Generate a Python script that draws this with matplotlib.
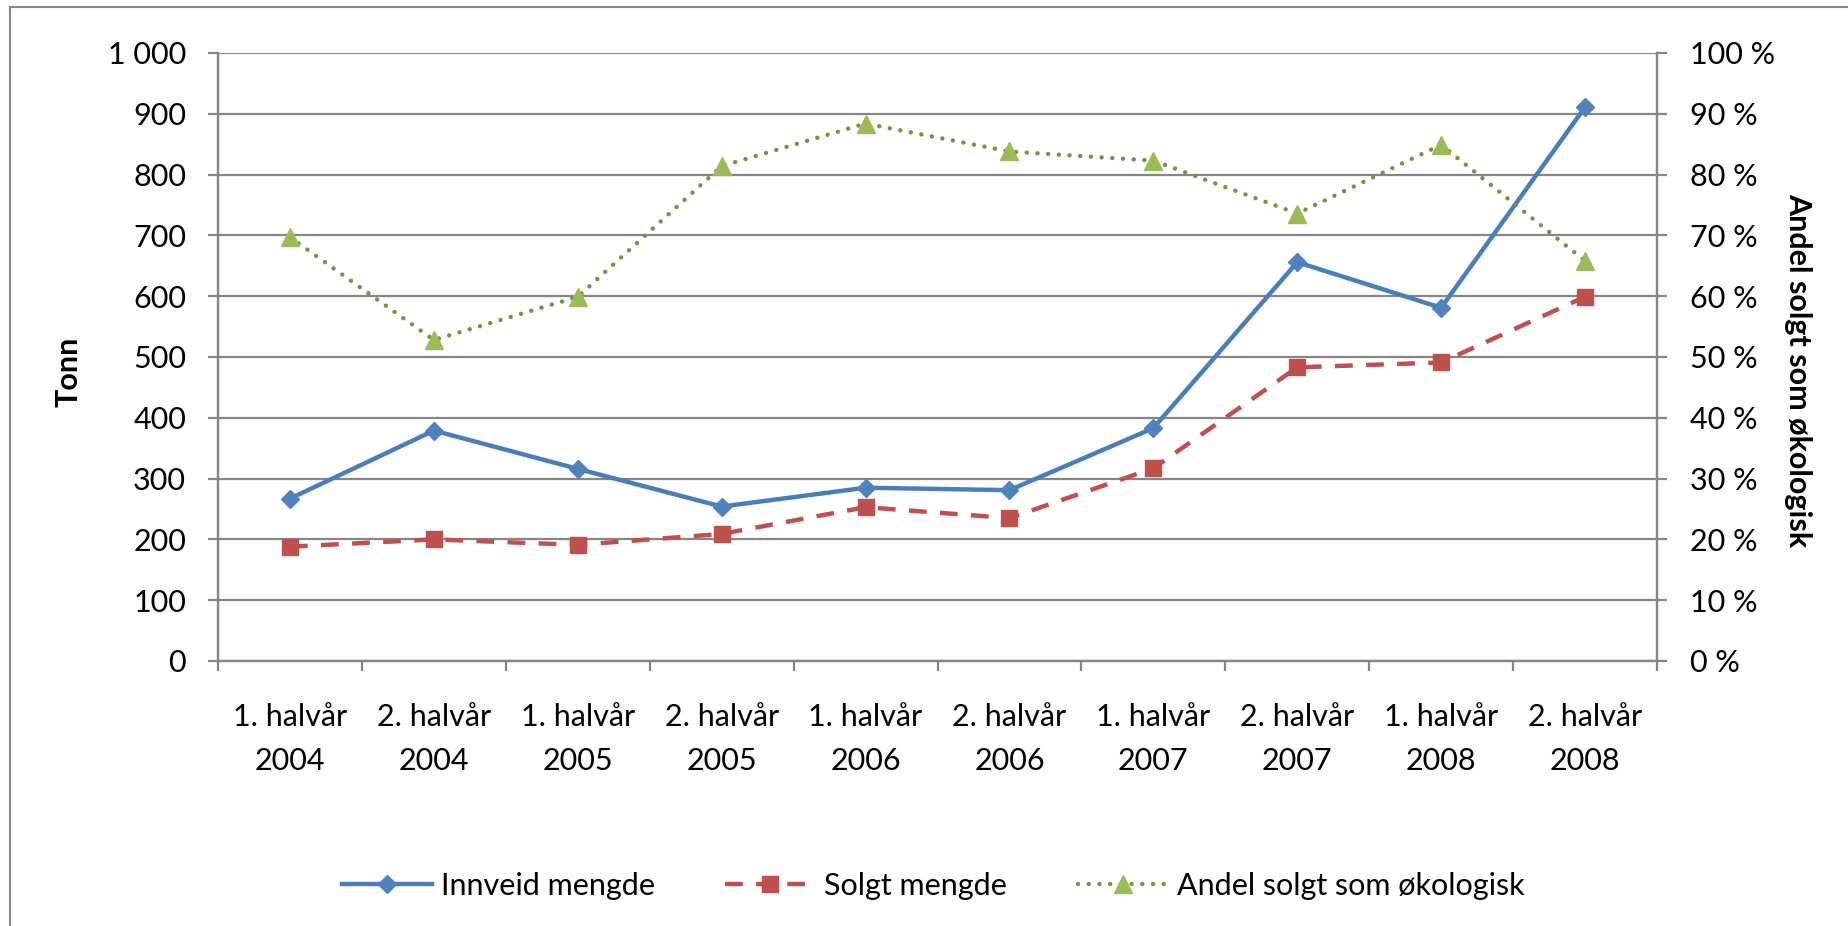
import numpy as np
import matplotlib
matplotlib.use("Agg")
import matplotlib.pyplot as plt
from matplotlib.patches import Rectangle
from matplotlib.ticker import FuncFormatter

plt.rcParams['font.family'] = ['Lato', 'DejaVu Sans']

categories = ["1. halvår\n2004", "2. halvår\n2004", "1. halvår\n2005", "2. halvår\n2005",
              "1. halvår\n2006", "2. halvår\n2006", "1. halvår\n2007", "2. halvår\n2007",
              "1. halvår\n2008", "2. halvår\n2008"]
innveid = [267, 379, 316, 254, 285, 281, 383, 656, 581, 911]
solgt = [188, 200, 191, 209, 253, 235, 317, 483, 491, 599]
andel = [69.7, 52.8, 59.9, 81.4, 88.4, 83.8, 82.3, 73.6, 84.9, 65.8]

grey = "#868686"
fs = 22

fig = plt.figure(figsize=(18.49, 9.26), dpi=100)
ax = fig.add_axes([218 / 1849, 1 - 661 / 926, (1657 - 218) / 1849, (661 - 53) / 926])
ax2 = ax.twinx()

# outer chart border
fig.patches.append(Rectangle((10 / 1849, -0.5), 2, 1 - 7 / 926 + 0.5, transform=fig.transFigure,
                             fill=False, edgecolor=grey, linewidth=1.5, zorder=0))

x = np.arange(len(categories))

l1, = ax.plot(x, innveid, color="#4A7EBB", lw=3.2, marker="D", markersize=9.5,
              markerfacecolor="#4F81BD", markeredgecolor="#4F81BD", label="Innveid mengde", zorder=4)
l2, = ax.plot(x, solgt, color="#C0504D", lw=3.2, linestyle=(0, (4, 3)), dash_capstyle="butt",
              marker="s", markersize=11, markerfacecolor="#C0504D", markeredgecolor="#C0504D",
              label="Solgt mengde", zorder=3)
l3, = ax2.plot(x, andel, color="#77933C", lw=3.2, linestyle=(0, (0.01, 2.4)), dash_capstyle="round",
               marker="^", markersize=13, markerfacecolor="#9BBB59", markeredgecolor="#9BBB59",
               label="Andel solgt som økologisk", zorder=3)

ax.set_xlim(-0.5, len(categories) - 0.5)
ax.set_ylim(0, 1000)
ax2.set_ylim(0, 100)

ax.set_yticks(np.arange(0, 1001, 100))
ax2.set_yticks(np.arange(0, 101, 10))
ax.yaxis.set_major_formatter(FuncFormatter(lambda v, p: f"{int(v):,}".replace(",", " ")))
ax2.yaxis.set_major_formatter(FuncFormatter(lambda v, p: f"{int(v)} %"))

ax.set_xticks(np.arange(-0.5, len(categories), 1))
ax.set_xticklabels([])
ax.set_xticks(x, minor=True)
ax.set_xticklabels(categories, minor=True, fontsize=fs, linespacing=1.7)
ax.tick_params(axis="x", which="major", length=7, width=1.6, color=grey, direction="out")
ax.tick_params(axis="x", which="minor", length=0, pad=30)
ax.tick_params(axis="y", length=7, width=1.6, color=grey, labelsize=fs, pad=16)
ax2.tick_params(axis="y", length=7, width=1.6, color=grey, labelsize=fs, pad=17)

ax.grid(axis="y", color=grey, lw=1.6)
ax.set_axisbelow(True)
for a in (ax, ax2):
    a.spines["top"].set_visible(False)
    for s in ("left", "right", "bottom"):
        a.spines[s].set_color(grey)
        a.spines[s].set_linewidth(1.6)

fig.text(69 / 1849, 1 - 372 / 926, "Tonn", rotation=90, fontsize=fs, fontweight="bold",
         ha="center", va="center")
fig.text(1798 / 1849, 1 - 370 / 926, "Andel solgt som økologisk", rotation=270, fontsize=fs,
         fontweight="bold", ha="center", va="center")

fig.legend(handles=[l1, l2, l3], loc="center", bbox_to_anchor=(933 / 1849, 1 - 886 / 926), ncol=3,
           frameon=False, fontsize=fs, handlelength=2.95, handletextpad=0.3, columnspacing=2.3)

fig.savefig("out.png", dpi=100)
